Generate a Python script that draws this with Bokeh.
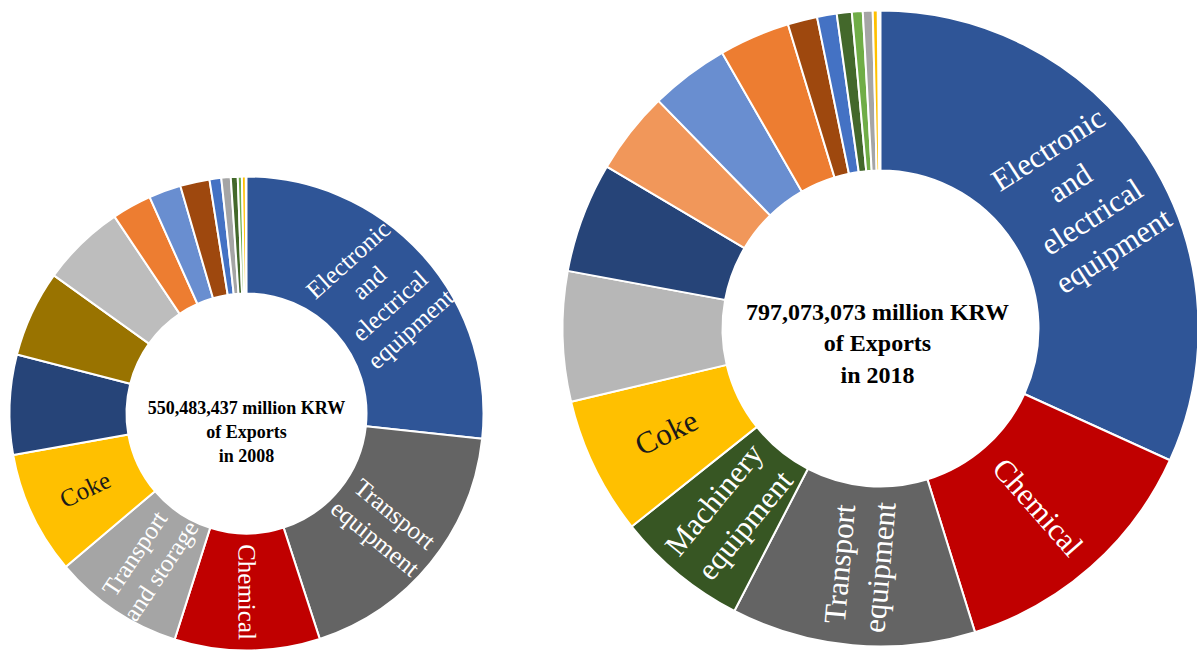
import numpy as np
from bokeh.plotting import figure
from bokeh.models import Range1d, ColumnDataSource
from bokeh.core.properties import value
from bokeh.embed import file_html
from bokeh.resources import INLINE

# ---------------- data: 2008 ----------------
labels_2008 = ["Electronic\nand\nelectrical\nequipment", "Transport\nequipment", "Chemical",
               "Transport\nand storage", "Coke", "", "", "", "", "", "", "", "", "", "", ""]
shares_2008 = [26.7, 18.3, 9.9, 8.9, 8.4, 6.8, 5.9, 5.7, 2.7, 2.2, 2.0, 0.8, 0.64, 0.47, 0.28, 0.26]
colors_2008 = ["#2F5597", "#646464", "#C00000", "#A5A5A5", "#FFC000", "#264478", "#997300", "#BDBDBD",
               "#ED7D31", "#698ED0", "#9E480E", "#4472C4", "#A5A5A5", "#43682B", "#70AD47", "#FFC000"]
text_colors_2008 = ["white", "white", "white", "white", "#1A1A1A"] + ["white"] * 11
center_2008 = "550,483,437 million KRW\nof Exports\nin 2008"

# ---------------- data: 2018 ----------------
labels_2018 = ["Electronic\nand\nelectrical\nequipment", "Chemical", "Transport\nequipment",
               "Machinery\nequipment", "Coke", "", "", "", "", "", "", "", "", "", "", ""]
shares_2018 = [31.8, 13.4, 12.4, 6.7, 7.0, 6.6, 5.6, 4.2, 4.0, 3.6, 1.5, 1.0, 0.76, 0.55, 0.5, 0.25]
colors_2018 = ["#2F5597", "#C00000", "#646464", "#375623", "#FFC000", "#B7B7B7", "#264478", "#F1975A",
               "#698ED0", "#ED7D31", "#9E480E", "#4472C4", "#43682B", "#70AD47", "#A5A5A5", "#FFC000"]
text_colors_2018 = ["white", "white", "white", "white", "#1A1A1A"] + ["white"] * 11
center_2018 = "797,073,073 million KRW\nof Exports\nin 2018"

W, H = 1197, 651
p = figure(width=W, height=H, output_backend="svg", toolbar_location=None,
           x_range=Range1d(0, W), y_range=Range1d(0, H),
           x_axis_type=None, y_axis_type=None, min_border=0)
p.outline_line_color = None
p.xgrid.visible = False
p.ygrid.visible = False
p.background_fill_color = "white"


def donut(cx, cy, r_in, r_out, shares, colors, labels, tcolors, label_size, center_text, center_size,
          center_dx=0, center_dy=0):
    s = np.array(shares, dtype=float)
    frac = s / 100.0
    cum = np.cumsum(frac)
    start = np.pi / 2 - 2 * np.pi * (cum - frac)
    end = np.pi / 2 - 2 * np.pi * cum
    src = ColumnDataSource(dict(start=start, end=end, color=colors))
    p.annular_wedge(x=cx, y=cy, inner_radius=r_in, outer_radius=r_out,
                    start_angle="start", end_angle="end", direction="clock",
                    fill_color="color", line_color="white", line_width=2, source=src)
    mid = (start + end) / 2
    rm = (r_in + r_out) / 2
    lx, ly, la, lt, lc = [], [], [], [], []
    for m, lab, col in zip(mid, labels, tcolors):
        if not lab:
            continue
        mm = np.arctan2(np.sin(m), np.cos(m))
        rot = mm if -np.pi / 2 - 1e-6 <= mm <= np.pi / 2 else mm + np.pi
        lx.append(cx + rm * np.cos(mm))
        ly.append(cy + rm * np.sin(mm))
        la.append(rot)
        lt.append(lab)
        lc.append(col)
    lsrc = ColumnDataSource(dict(x=lx, y=ly, a=la, t=lt, c=lc))
    p.text(x="x", y="y", text="t", angle="a", text_color="c", source=lsrc,
           text_font=value("Liberation Serif"), text_font_size=f"{label_size}px",
           text_align="center", text_baseline="middle", text_line_height=1.15)
    p.text(x=[cx + center_dx], y=[cy + center_dy], text=[center_text],
           text_font=value("Liberation Serif"), text_font_style="bold",
           text_font_size=f"{center_size}px", text_color="black",
           text_align="center", text_baseline="middle", text_line_height=1.2)


# data y = 651 - screen y
donut(246, H - 413, 120, 237, shares_2008, colors_2008, labels_2008, text_colors_2008, 25,
      center_2008, 18, center_dx=0, center_dy=-18)
donut(880, H - 328, 158, 318, shares_2018, colors_2018, labels_2018, text_colors_2018, 31,
      center_2018, 24, center_dx=-3, center_dy=-15)

open("out.html", "w").write(file_html(p, INLINE))
